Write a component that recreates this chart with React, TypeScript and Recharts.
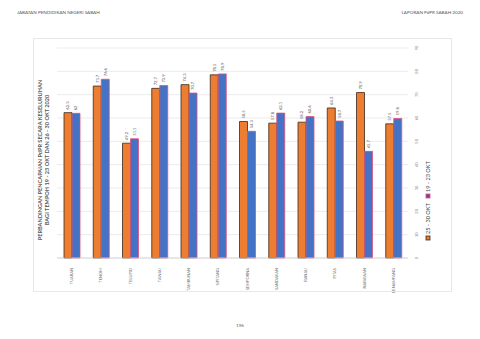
import React from 'react';
import { BarChart, Bar, XAxis, YAxis, CartesianGrid, LabelList } from 'recharts';

const districts = [
  'TUARAN', 'TENOM', 'TELUPID', 'TAWAU', 'TAMBUNAN', 'SIPITANG',
  'SEMPORNA', 'SANDAKAN', 'RANAU', 'PITAS', 'NABAWAN', 'PENAMPANG',
];
const oct25to30 = [62.3, 73.7, 49.2, 72.7, 74.3, 78.5, 58.5, 57.8, 58.2, 64.3, 70.9, 57.5];
const oct19to23 = [62, 76.6, 51.1, 73.9, 70.7, 78.9, 54.3, 62.1, 60.6, 58.7, 45.7, 59.8];
const yTicks = [0, 10, 20, 30, 40, 50, 60, 70, 80, 90];

const data = districts.map((name, i) => ({
  name,
  a: oct25to30[i],
  b: oct19to23[i],
}));

const FONT = 'Lato, "DejaVu Sans", sans-serif';

const ValueLabel = (props: any) => {
  const { x, y, width, value } = props;
  const cx = x + width / 2 + 1.5;
  const cy = y - 3;
  return (
    <text x={cx} y={cy} transform={`rotate(-90 ${cx} ${cy})`} fontSize={4.2} fill="#555" fontFamily={FONT} textAnchor="start">
      {value}
    </text>
  );
};

const CategoryTick = (props: any) => {
  const { x, y, payload } = props;
  const cx = x + 1.5;
  const cy = y + 2;
  return (
    <text x={cx} y={cy} transform={`rotate(-90 ${cx} ${cy})`} fontSize={4} fill="#777" fontFamily={FONT} textAnchor="end">
      {payload.value}
    </text>
  );
};

const ValueTick = (props: any) => {
  const { x, y, payload } = props;
  const cx = x + 2;
  const cy = y;
  return (
    <text x={cx} y={cy} transform={`rotate(-90 ${cx} ${cy})`} fontSize={4} fill="#888" fontFamily={FONT} textAnchor="middle">
      {payload.value}
    </text>
  );
};

export default function App() {
  return (
    <div style={{ position: 'fixed', left: 0, top: 0, width: 480, height: 339, background: '#fff', overflow: 'hidden' }}>
      <div style={{ position: 'absolute', left: 0, top: 0 }}>
        <BarChart
          width={480}
          height={339}
          data={data}
          margin={{ top: 48, bottom: 51, left: 57, right: 52 }}
          barSize={8}
          barGap={0}
        >
          <CartesianGrid vertical={false} stroke="#e6e6e6" strokeWidth={0.8} />
          <XAxis
            dataKey="name"
            interval={0}
            tick={<CategoryTick />}
            tickLine={false}
            axisLine={{ stroke: '#d0d0d0', strokeWidth: 0.8 }}
            height={30}
          />
          <YAxis
            orientation="right"
            domain={[0, 90]}
            ticks={yTicks}
            interval={0}
            tick={<ValueTick />}
            tickLine={false}
            axisLine={false}
            width={20}
          />
          <Bar dataKey="a" fill="#ED7D31" stroke="#3b2a1c" strokeWidth={0.8} isAnimationActive={false}>
            <LabelList dataKey="a" content={<ValueLabel />} />
          </Bar>
          <Bar dataKey="b" fill="#4472C4" stroke="#e0507a" strokeWidth={0.8} isAnimationActive={false}>
            <LabelList dataKey="b" content={<ValueLabel />} />
          </Bar>
        </BarChart>
      </div>

      <svg width={480} height={339} style={{ position: 'absolute', left: 0, top: 0, pointerEvents: 'none' }} fontFamily={FONT}>
        <text x={17} y={14} fontSize={4.6} fill="#555">JABATAN PENDIDIKAN NEGERI SABAH</text>
        <text x={463} y={14} fontSize={4.6} fill="#555" textAnchor="end">LAPORAN PdPR SABAH 2020</text>
        <text x={240} y={327} fontSize={4.6} fill="#666" textAnchor="middle">196</text>
        <rect x={33.5} y={38.5} width={418} height={253} fill="none" stroke="#e8e8e8" strokeWidth={1} />
        <g transform="translate(42 160) rotate(-90)">
          <text x={0} y={0} fontSize={5.6} fontWeight={700} fill="#595959" textAnchor="middle">
            PERBANDINGAN PENCAPAIAN PdPR SECARA KESELURUHAN
          </text>
          <text x={0} y={6.5} fontSize={5.6} fontWeight={700} fill="#595959" textAnchor="middle">
            BAGI TEMPOH 19 - 23 OKT DAN 26 - 30 OKT 2020
          </text>
        </g>
        <g transform="translate(430 240) rotate(-90)">
          <rect x={0} y={-4} width={4} height={4} fill="#ED7D31" stroke="#3b2a1c" strokeWidth={0.8} />
          <text x={6} y={0} fontSize={5.6} fill="#444">25 - 30 OKT</text>
          <rect x={42} y={-4} width={4} height={4} fill="#7A3F9D" stroke="#e0507a" strokeWidth={0.8} />
          <text x={48} y={0} fontSize={5.6} fill="#444">19 - 23 OKT</text>
        </g>
      </svg>
    </div>
  );
}
